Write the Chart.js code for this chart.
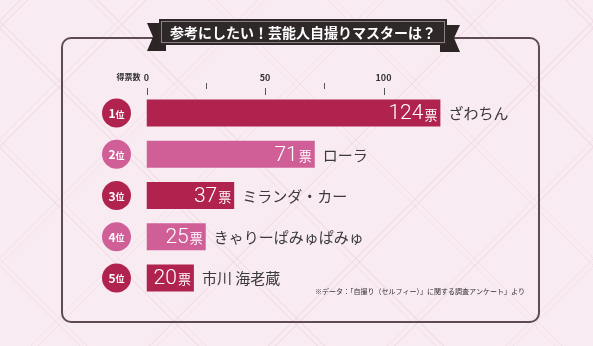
<!DOCTYPE html>
<html lang="ja">
<head>
<meta charset="utf-8">
<script src="https://cdn.jsdelivr.net/npm/chart.js@4"></script>
<style>
  html, body { margin: 0; padding: 0; }
  body {
    width: 593px; height: 346px; overflow: hidden;
    background-color: #f9ebf2;
    background-image:
      repeating-linear-gradient(45deg, transparent 0 56px, rgba(232,205,217,0.4) 56px 57px, transparent 57px 61px, rgba(232,205,217,0.4) 61px 62px, transparent 62px 84px),
      repeating-linear-gradient(-45deg, transparent 0 56px, rgba(232,205,217,0.4) 56px 57px, transparent 57px 61px, rgba(232,205,217,0.4) 61px 62px, transparent 62px 84px);
  }
  #wrap { position: relative; width: 593px; height: 346px; }
  canvas { display: block; }
</style>
</head>
<body>
<div id="wrap"><canvas id="rankChart" width="593" height="346"></canvas></div>
<script>
// chart data
const ranks = ['1', '2', '3', '4', '5'];
const names = ['ざわちん', 'ローラ', 'ミランダ・カー', 'きゃりーぱみゅぱみゅ', '市川 海老蔵'];
const votes = [124, 71, 37, 25, 20];
const majorTicks = [0, 50, 100];
const minorTicks = [25, 75];
const titleText = '参考にしたい！芸能人自撮りマスターは？';
const axisTitle = '得票数';
const noteText = '※データ：「自撮り（セルフィー）」に関する調査アンケート」より';

const DARK = '#b0234f';
const PINK = '#d05f98';
const barColors = votes.map((v, i) => i % 2 === 0 ? DARK : PINK);
const JP = '"Noto Sans CJK JP", "Noto Sans", sans-serif';

function roundRect(ctx, x, y, w, h, r) {
    ctx.beginPath();
    ctx.moveTo(x + r, y);
    ctx.lineTo(x + w - r, y);
    ctx.arcTo(x + w, y, x + w, y + r, r);
    ctx.lineTo(x + w, y + h - r);
    ctx.arcTo(x + w, y + h, x + w - r, y + h, r);
    ctx.lineTo(x + r, y + h);
    ctx.arcTo(x, y + h, x, y + h - r, r);
    ctx.lineTo(x, y + r);
    ctx.arcTo(x, y, x + r, y, r);
    ctx.closePath();
}

// frame, title ribbon, axis marks, labels
const decorations = {
    id: 'decorations',
    beforeDraw(chart) {
        const ctx = chart.ctx;
        ctx.save();
        // frame
        ctx.strokeStyle = '#5f4b54';
        ctx.lineWidth = 2;
        roundRect(ctx, 62, 38, 477, 284, 9);
        ctx.stroke();

        // ribbon tails
        ctx.fillStyle = '#2b2526';
        ctx.beginPath();
        ctx.moveTo(147, 23); ctx.lineTo(166, 23); ctx.lineTo(166, 51);
        ctx.lineTo(147, 51); ctx.lineTo(153, 37); ctx.closePath();
        ctx.fill();
        ctx.beginPath();
        ctx.moveTo(440, 25); ctx.lineTo(460, 25); ctx.lineTo(454, 38);
        ctx.lineTo(460, 52); ctx.lineTo(440, 52); ctx.closePath();
        ctx.fill();
        // ribbon box
        ctx.fillStyle = '#2e2829';
        ctx.fillRect(159, 19, 288, 26);
        ctx.strokeStyle = '#8c7f82';
        ctx.lineWidth = 1;
        ctx.strokeRect(161.5, 21.5, 283, 21);
        ctx.fillStyle = '#ffffff';
        ctx.font = 'bold 14px ' + JP;
        ctx.textAlign = 'center';
        ctx.textBaseline = 'middle';
        ctx.fillText(titleText, 303, 32.5);

        // axis tick marks
        const x = chart.scales.x;
        ctx.strokeStyle = '#555';
        ctx.lineWidth = 1;
        majorTicks.forEach(v => {
            const px = Math.round(x.getPixelForValue(v)) + 0.5;
            ctx.beginPath(); ctx.moveTo(px, 88); ctx.lineTo(px, 95); ctx.stroke();
        });
        minorTicks.forEach(v => {
            const px = Math.round(x.getPixelForValue(v)) + 0.5;
            ctx.beginPath(); ctx.moveTo(px, 83); ctx.lineTo(px, 89); ctx.stroke();
        });
        ctx.fillStyle = '#333';
        ctx.font = 'bold 8px ' + JP;
        ctx.textAlign = 'right';
        ctx.fillText(axisTitle, x.getPixelForValue(0) - 6, 77);

        // note
        ctx.font = '7px ' + JP;
        ctx.textAlign = 'left';
        ctx.fillText(noteText, 315, 291);
        ctx.restore();
    },
    afterDatasetsDraw(chart) {
        const ctx = chart.ctx;
        const meta = chart.getDatasetMeta(0);
        const left = chart.chartArea.left;
        ctx.save();
        ctx.textBaseline = 'middle';
        meta.data.forEach((bar, i) => {
            const y = bar.y;
            // rank badge
            ctx.fillStyle = barColors[i];
            ctx.beginPath();
            ctx.arc(left - 30, y, 14.5, 0, Math.PI * 2);
            ctx.fill();
            ctx.fillStyle = '#fff';
            ctx.font = 'bold 12px ' + JP;
            const wNum = ctx.measureText(ranks[i]).width;
            ctx.font = 'bold 9px ' + JP;
            const wI = ctx.measureText('位').width;
            const sx = left - 30 - (wNum + wI) / 2;
            ctx.textAlign = 'left';
            ctx.font = 'bold 12px ' + JP;
            ctx.fillText(ranks[i], sx, y + 0.5);
            ctx.font = 'bold 9px ' + JP;
            ctx.fillText('位', sx + wNum, y + 1);

            // value inside bar
            ctx.textAlign = 'right';
            ctx.font = '13px ' + JP;
            ctx.fillText('票', bar.x - 3, y + 1.5);
            const wJ = ctx.measureText('票').width;
            ctx.font = '300 21px Roboto, "Open Sans", sans-serif';
            ctx.fillText(String(votes[i]), bar.x - 4 - wJ, y + 1);

            // name
            ctx.fillStyle = '#3a3a3a';
            ctx.textAlign = 'left';
            ctx.font = '15px ' + JP;
            ctx.fillText(names[i], bar.x + 8, y + 0.5);
        });
        ctx.restore();
    }
};

new Chart(document.getElementById('rankChart'), {
    type: 'bar',
    data: {
        labels: names,
        datasets: [{
            data: votes,
            backgroundColor: barColors,
            borderWidth: 0,
            barPercentage: 0.655,
            categoryPercentage: 1
        }]
    },
    options: {
        indexAxis: 'y',
        responsive: false,
        animation: false,
        events: [],
        layout: { padding: { left: 146.5, right: 91, top: 0, bottom: 47.5 } },
        plugins: { legend: { display: false }, tooltip: { enabled: false } },
        scales: {
            x: {
                position: 'top',
                min: 0,
                max: 150,
                afterFit: s => { s.height = 92.5; },
                afterBuildTicks: s => { s.ticks = majorTicks.map(v => ({ value: v })); },
                grid: { display: false, drawTicks: false },
                border: { display: false },
                ticks: {
                    padding: 10,
                    color: '#333',
                    font: { family: JP, size: 9, weight: 'bold' }
                }
            },
            y: { display: false }
        }
    },
    plugins: [decorations]
});
</script>
</body>
</html>
